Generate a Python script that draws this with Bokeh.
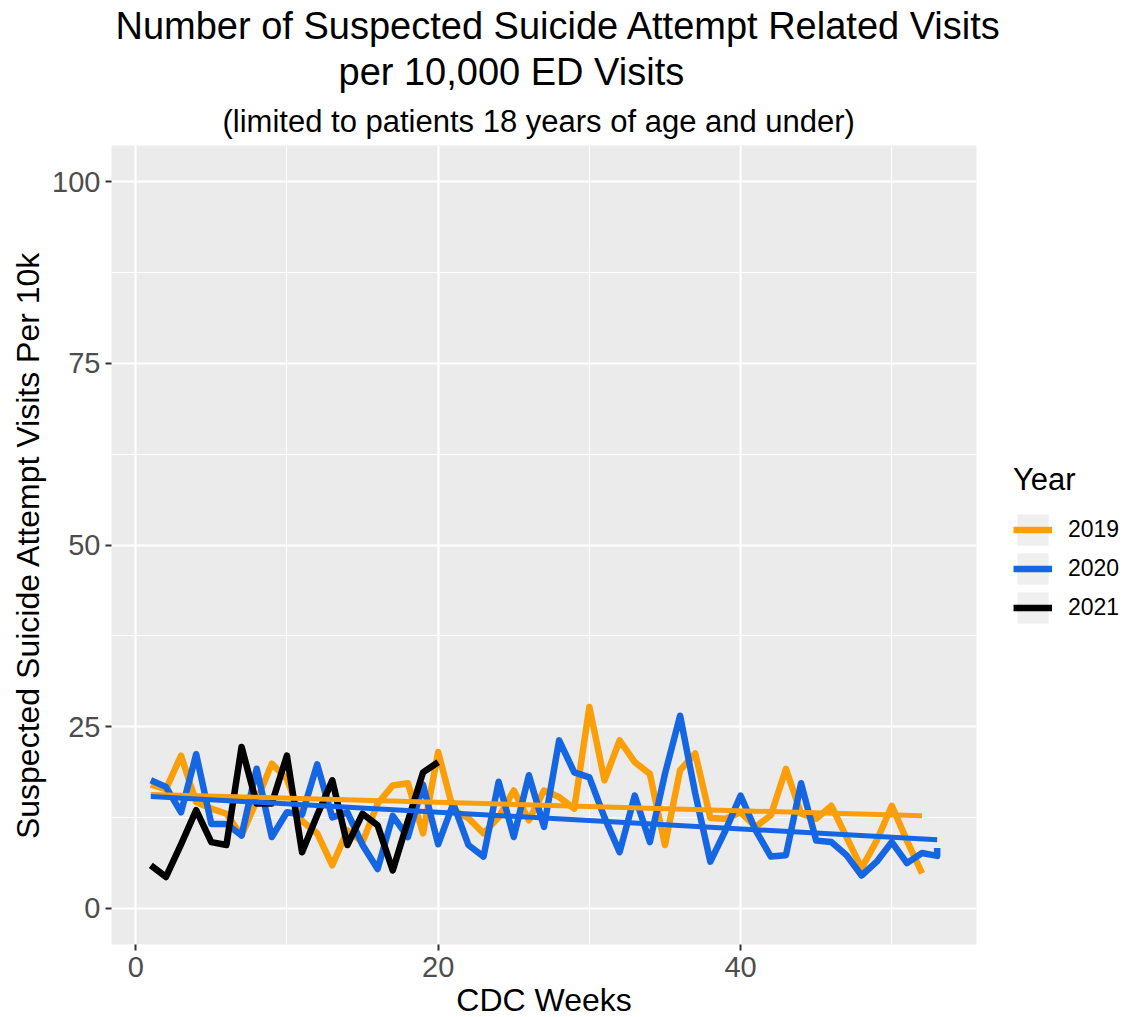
from bokeh.plotting import figure
from bokeh.models import Range1d, FixedTicker, Legend, LegendItem, Title
from bokeh.embed import file_html
from bokeh.resources import INLINE
import numpy as np

FONT = "Liberation Sans"

# Weekly suspected suicide attempt visits per 10k ED visits (age <= 18)
weeks_2019 = list(range(1, 53))
visits_2019 = [17.0, 16.4, 21.0, 14.6, 13.7, 13.0, 10.0, 14.8, 19.9, 17.8,
               12.0, 10.3, 5.9, 10.7, 9.1, 14.4, 16.9, 17.2, 10.3, 21.5,
               13.5, 12.4, 10.3, 12.5, 16.2, 12.1, 16.2, 15.3, 13.7, 27.7,
               17.6, 23.1, 20.1, 18.5, 8.7, 19.0, 21.3, 12.4, 12.3, 13.2,
               11.2, 12.8, 19.2, 13.0, 12.3, 14.1, 9.8, 5.5, 9.3, 14.1,
               9.3, 4.8]

weeks_2020 = list(range(1, 54)) + [53]
visits_2020 = [17.6, 16.7, 13.2, 21.2, 11.6, 11.6, 10.0, 19.2, 9.8, 13.2,
               12.9, 19.8, 12.5, 13.2, 8.7, 5.4, 12.7, 9.8, 17.0, 8.8,
               14.4, 8.7, 7.1, 17.4, 9.8, 18.3, 11.2, 23.1, 18.7, 18.0,
               12.5, 7.7, 15.5, 9.1, 18.5, 26.5, 15.8, 6.4, 10.7, 15.5,
               10.7, 7.1, 7.3, 17.2, 9.3, 9.1, 7.3, 4.5, 6.4, 9.1,
               6.2, 7.6, 7.2, 8.3]

weeks_2021 = list(range(1, 21))
visits_2021 = [5.9, 4.3, 8.8, 13.5, 9.1, 8.7, 22.2, 14.4, 14.4, 21.0,
               7.7, 12.8, 17.6, 8.7, 13.0, 11.4, 5.2, 12.0, 18.7, 20.1]

years = ["2019", "2020", "2021"]
colors = ["#FA9F0A", "#1566E3", "#000000"]

x_ticks = [0, 20, 40]
x_minor = [10, 30, 50]
y_ticks = [0, 25, 50, 75, 100]
y_minor = [12.5, 37.5, 62.5, 87.5]

FL, FT, FW, FH = 111, 145, 865, 799
W, H = 1127, 1017

p = figure(width=W, height=H, output_backend="svg", toolbar_location=None,
           x_range=Range1d(-1.6, 55.6), y_range=Range1d(-5.0, 105.0),
           min_border_left=FL, min_border_top=FT,
           min_border_right=W - FL - FW, min_border_bottom=H - FT - FH,
           frame_width=FW, frame_height=FH)
p.title.visible = False
p.background_fill_color = "#EBEBEB"
p.border_fill_color = "white"
p.outline_line_color = None

p.xaxis.ticker = FixedTicker(ticks=x_ticks, minor_ticks=x_minor)
p.yaxis.ticker = FixedTicker(ticks=y_ticks, minor_ticks=y_minor)
for g in (p.xgrid, p.ygrid):
    g.grid_line_color = "white"
    g.grid_line_width = 2.2
    g.minor_grid_line_color = "white"
    g.minor_grid_line_width = 1.1

for ax in (p.xaxis, p.yaxis):
    ax.axis_line_color = None
    ax.minor_tick_line_color = None
    ax.major_tick_line_color = "#333333"
    ax.major_tick_line_width = 2
    ax.major_tick_in = 0
    ax.major_tick_out = 6
    ax.major_label_text_font = FONT
    ax.major_label_text_font_size = "29px"
    ax.major_label_text_color = "#4D4D4D"
    ax.axis_label_text_font = FONT
    ax.axis_label_text_font_size = "32px"
    ax.axis_label_text_font_style = "normal"
    ax.axis_label_text_color = "black"
p.xaxis.axis_label = "CDC Weeks"
p.yaxis.axis_label = "Suspected Suicide Attempt Visits Per 10k"
p.xaxis.major_label_standoff = 6
p.xaxis.axis_label_standoff = 2
p.yaxis.major_label_standoff = 5
p.yaxis.axis_label_standoff = 3

series = [(weeks_2019, visits_2019), (weeks_2020, visits_2020),
          (weeks_2021, visits_2021)]
renderers = []
for (wk, val), col in zip(series, colors):
    r = p.line(wk, val, line_color=col, line_width=6.5, line_join="round")
    renderers.append(r)

# linear trend for 2019 and 2020
for (wk, val), col in zip(series[:2], colors[:2]):
    slope, icpt = np.polyfit(wk, val, 1)
    xs = [min(wk), max(wk)]
    p.line(xs, [icpt + slope * x for x in xs], line_color=col, line_width=5)

# title block: added nearest-first
def title_line(text, left_px, size, standoff):
    p.add_layout(Title(text=text, align="left", offset=left_px - FL,
                       text_font=FONT, text_font_size=size,
                       text_font_style="normal", text_color="black",
                       standoff=standoff), "above")

title_line("(limited to patients 18 years of age and under)", 222, "31px", 14)
title_line("per 10,000 ED Visits", 338, "38px", 4)
title_line("Number of Suspected Suicide Attempt Related Visits", 115, "38px", 0)

# legend key background: a renderer whose only role is its legend swatch
key_bg = p.quad(left=[np.nan], right=[np.nan], top=[np.nan], bottom=[np.nan],
                fill_color="#EFEFEF", line_color=None)

legend = Legend(items=[LegendItem(label=y, renderers=[key_bg, r])
                       for y, r in zip(years, renderers)],
                location=(1013 - (FL + FW), FT + FH - 627),
                title="Year", title_text_font=FONT, title_text_font_size="31px",
                title_text_font_style="normal", title_text_color="black",
                title_standoff=12,
                label_text_font=FONT, label_text_font_size="23px",
                label_text_color="black",
                glyph_width=39, glyph_height=39, label_height=39,
                spacing=0, padding=0, margin=0, label_standoff=16,
                background_fill_alpha=0, border_line_color=None)
p.add_layout(legend, "right")

open("out.html", "w").write(file_html(p, INLINE))
